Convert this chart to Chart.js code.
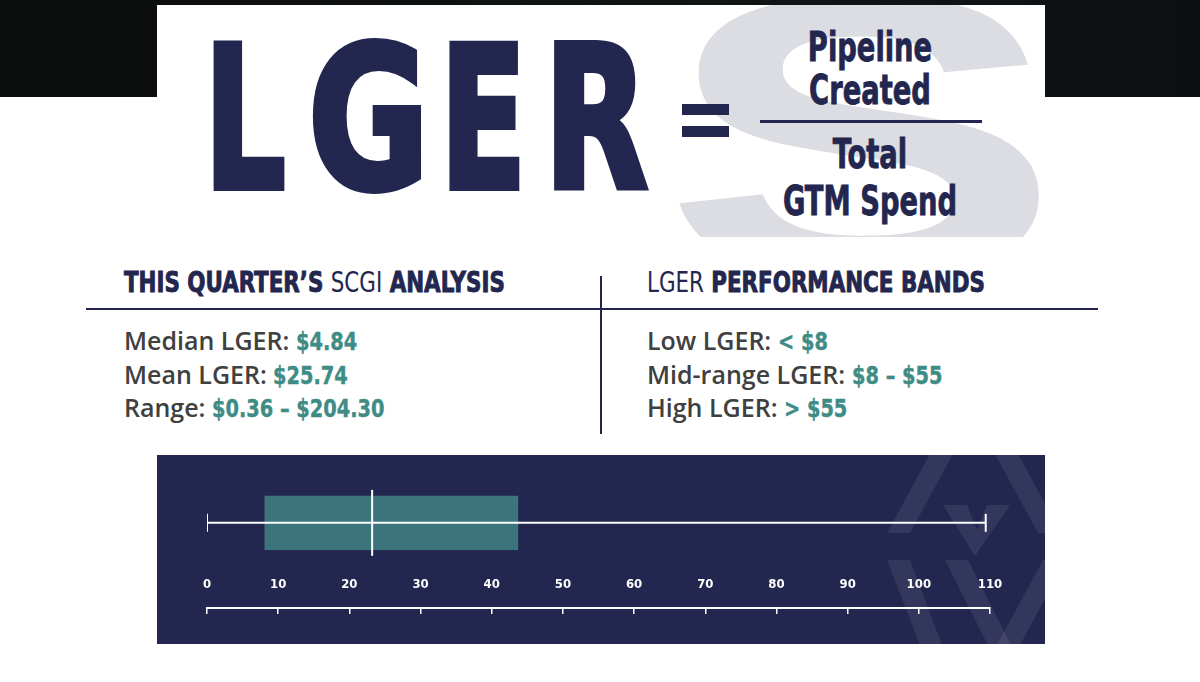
<!DOCTYPE html>
<html>
<head>
<meta charset="utf-8">
<script src="https://cdn.jsdelivr.net/npm/chart.js@4/dist/chart.umd.min.js"></script>
<style>
  body { margin: 0; width: 1200px; height: 682px; background: #fff; position: relative; overflow: hidden; }
  .abs { position: absolute; white-space: nowrap; }
  .narrow { font-family: "Liberation Sans Narrow", "DejaVu Sans Condensed", "Liberation Sans", sans-serif; font-weight: 700; }
  .navy { color: #23264f; }
  .teal { color: #3e8c85; }
  .gray { color: #404040; font-family: "Open Sans", "Noto Sans", sans-serif; font-weight: 600; }
  #band { left: 0; top: 0; width: 1200px; height: 97px; background: linear-gradient(90deg, #0b0c0c, #111515 60%, #0d1013); }
  #card { left: 157px; top: 5px; width: 888px; height: 232px; background: #fff; overflow: hidden; }
  #dollar { left: 505px; top: -68px; font-family: "Liberation Sans", sans-serif; font-weight: 700; font-size: 400px; line-height: 1; color: #dcdce3; transform: scaleX(1.5); transform-origin: left top; }
  .big { font-size: 198px; line-height: 1; top: 21px; -webkit-text-stroke: 6px #23264f; transform-origin: left top; }
  .frac { font-size: 40px; line-height: 1; width: 260px; text-align: center; left: 740px; transform: scaleX(0.76); -webkit-text-stroke: 0.8px #23264f; }
  .head { font-size: 29px; line-height: 1; top: 268px; transform: scaleX(0.82); transform-origin: left top; -webkit-text-stroke: 0.9px #23264f; }
  .light { font-weight: 400; -webkit-text-stroke: 0; }
  .stat { font-size: 25px; line-height: 1; }
  .stat .v { display: inline-block; font-family: "Liberation Sans Narrow", "DejaVu Sans Condensed", sans-serif; font-weight: 700; font-size: 25px; transform: scaleX(0.86); transform-origin: left center; -webkit-text-stroke: 0.4px #3e8c85; }
  #panel { left: 157px; top: 455px; width: 888px; height: 189px; background: #23264f; overflow: hidden; }
  #chartBox { left: 157px; top: 455px; width: 888px; height: 200px; }
</style>
</head>
<body>
<div id="band" class="abs"></div>
<div id="card" class="abs">
  <div id="dollar" class="abs">S</div>
</div>

<div class="abs narrow navy big" style="left:204px;transform:scaleX(0.72)">L</div>
<div class="abs narrow navy big" style="left:308px;transform:scaleX(0.83)">G</div>
<div class="abs narrow navy big" style="left:440px;transform:scaleX(0.71)">E</div>
<div class="abs narrow navy big" style="left:544px;transform:scaleX(0.76)">R</div>
<div class="abs" style="left:682px;top:104px;width:47px;height:11px;background:#23264f"></div>
<div class="abs" style="left:682px;top:126px;width:47px;height:11px;background:#23264f"></div>

<div class="abs narrow navy frac" style="top:27px">Pipeline</div>
<div class="abs narrow navy frac" style="top:70px">Created</div>
<div class="abs" style="left:760px;top:120px;width:222px;height:3px;background:#23264f"></div>
<div class="abs narrow navy frac" style="top:134px">Total</div>
<div class="abs narrow navy frac" style="top:181px">GTM Spend</div>

<div class="abs narrow navy head" style="left:124px">THIS QUARTER’S <span class="light">SCGI</span> ANALYSIS</div>
<div class="abs narrow navy head" style="left:647px"><span class="light">LGER</span> PERFORMANCE BANDS</div>
<div class="abs" style="left:86px;top:308px;width:1012px;height:2px;background:#23264f"></div>
<div class="abs" style="left:600px;top:276px;width:2px;height:158px;background:#23264f"></div>

<div class="abs gray stat" style="left:124px;top:328px">Median LGER: <span class="v teal">$4.84</span></div>
<div class="abs gray stat" style="left:124px;top:362px">Mean LGER: <span class="v teal">$25.74</span></div>
<div class="abs gray stat" style="left:124px;top:395px">Range: <span class="v teal">$0.36 – $204.30</span></div>
<div class="abs gray stat" style="left:647px;top:328px">Low LGER: <span class="v teal">&lt; $8</span></div>
<div class="abs gray stat" style="left:647px;top:362px">Mid-range LGER: <span class="v teal">$8 – $55</span></div>
<div class="abs gray stat" style="left:647px;top:395px">High LGER: <span class="v teal">&gt; $55</span></div>

<div id="panel" class="abs">
  <svg width="888" height="189" style="position:absolute;left:0;top:0">
    <g fill="rgba(255,255,255,0.08)">
      <polygon points="730,78 753,78 796,-1 773,-1"/>
      <polygon points="838,-1 861,-1 904,78 881,78"/>
      <polygon points="786,50 810,50 820,75 830,50 853,50 818,101"/>
      <polygon points="730,105 753,105 785,190 763,190"/>
      <polygon points="788,105 811,105 854,190 831,190"/>
      <polygon points="840,190 863,190 909,105 886,105"/>
    </g>
  </svg>
</div>
<div id="chartBox" class="abs"><canvas id="graphic"></canvas></div>

<script>
// LGER distribution ($ values)
const categories = ["LGER"];
const boxRange = [8.1, 43.7];      // lower / upper quartile
const medianValues = [23.2];
const whiskerRange = [0, 109.4];   // min / max whisker
const tickValues = [0, 10, 20, 30, 40, 50, 60, 70, 80, 90, 100, 110];

const rowY = 6; // where the single box sits on the hidden y scale
const graphic = document.querySelector("#graphic");

const datasets = [
  {
    type: "bar",
    label: categories[0],
    indexAxis: "y",
    data: [{ x: boxRange, y: rowY }],
    backgroundColor: "#3c747b",
    borderColor: "#3f7a80",
    borderWidth: 1,
    borderSkipped: false,
    barThickness: 54,
    order: 3,
  },
  {
    type: "scatter",
    label: "whiskers",
    data: whiskerRange.map((v) => ({ x: v, y: rowY })),
    showLine: true,
    borderColor: "#ffffff",
    borderWidth: 2,
    pointStyle: "line",
    rotation: 90,
    pointRadius: 9,
    pointBorderColor: "#ffffff",
    pointBorderWidth: 2,
    order: 2,
  },
  {
    type: "scatter",
    label: "median",
    data: medianValues.map((v) => ({ x: v, y: rowY })),
    pointStyle: "line",
    rotation: 90,
    pointRadius: 33,
    pointBorderColor: "#ffffff",
    pointBorderWidth: 2,
    order: 1,
  },
];

const config = {
  type: "bar",
  data: { datasets },
  options: {
    responsive: true,
    maintainAspectRatio: false,
    animation: false,
    layout: { autoPadding: false, padding: { left: 50, right: 55, top: 7, bottom: 9 } },
    plugins: {
      legend: { display: false },
      tooltip: { enabled: false },
    },
    scales: {
      x: {
        type: "linear",
        min: 0,
        max: 110,
        offset: false,
        afterBuildTicks: (scale) => {
          scale.ticks = tickValues.map((v) => ({ value: v }));
        },
        grid: { offset: false, drawOnChartArea: false, color: "#ffffff", lineWidth: 1.5, tickLength: 6 },
        border: { color: "#ffffff", width: 2 },
        ticks: {
          mirror: true,
          padding: 16,
          color: "#ffffff",
          font: { family: "'Liberation Sans Narrow', 'DejaVu Sans Condensed', sans-serif", weight: "bold", size: 13 },
        },
      },
      y: {
        type: "linear",
        min: 0,
        max: 10,
        display: false,
      },
    },
  },
};

new Chart(graphic.getContext("2d"), config);
</script>
</body>
</html>
